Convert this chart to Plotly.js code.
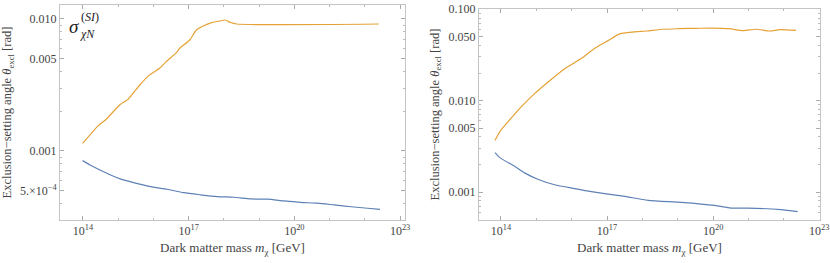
<!DOCTYPE html>
<html><head><meta charset="utf-8">
<script src="https://cdn.plot.ly/plotly-3.0.1.min.js"></script>
<style>html,body{margin:0;padding:0;background:#fff}#plot{width:830px;height:263px}</style>
</head><body><div id="plot"></div>
<script>
// Left panel (SI)
const massLeftOrange = [9.8e13, 2.7e14, 4.6e14, 1.1e15, 1.9e15, 4.1e15, 7.8e15, 1.5e16, 2.3e16, 4.5e16, 5.6e16, 1.07e17, 1.66e17, 2.6e17, 4.5e17, 7.6e17, 1.1e18, 1.5e18, 2.3e18, 2.5e22];
const thetaLeftOrange = [0.00114, 0.00155, 0.00174, 0.00223, 0.00246, 0.00316, 0.00377, 0.00423, 0.00475, 0.00556, 0.0060, 0.00693, 0.00826, 0.00885, 0.00938, 0.00966, 0.00982, 0.00944, 0.00916, 0.00916];
const massLeftBlue = [9.8e13, 1.6e14, 4.8e14, 1.15e15, 2.75e15, 8.3e15, 2.45e16, 7.2e16, 2.2e17, 6.5e17, 1.9e18, 5.8e18, 1.7e19, 5.1e19, 1.5e20, 4.6e20, 1.35e21, 4.1e21, 1.2e22, 2.7e22];
const thetaLeftBlue = [0.000845, 0.000783, 0.000678, 0.000614, 0.000575, 0.000537, 0.000513, 0.000483, 0.000465, 0.000451, 0.000446, 0.000433, 0.000431, 0.000418, 0.000408, 0.000402, 0.00039, 0.000378, 0.000368, 0.000361];
// Right panel
const massRightOrange = [6.8e13, 9.3e13, 1.6e14, 3.8e14, 9.1e14, 2.2e15, 6.5e15, 1.9e16, 4.5e16, 1.07e17, 2.3e17, 5.4e17, 1.3e18, 3.8e18, 1.1e19, 3.3e19, 9.8e19, 2.9e20, 6.9e20, 1.66e21, 4.0e21, 7.6e21, 2.2e22];
const thetaRightOrange = [0.00366, 0.00458, 0.00589, 0.00859, 0.0120, 0.0161, 0.0225, 0.029, 0.0373, 0.0453, 0.0536, 0.0562, 0.0577, 0.0603, 0.0612, 0.0618, 0.0622, 0.0612, 0.0582, 0.0603, 0.0577, 0.0597, 0.0587];
const massRightBlue = [6.8e13, 9.3e13, 2.5e14, 4.8e14, 1.1e15, 3.3e15, 1.2e16, 3.6e16, 1.07e17, 3.2e17, 1.45e18, 1.26e19, 1.1e20, 3.2e20, 9.5e20, 8.3e21, 2.45e22];
const thetaRightBlue = [0.0027, 0.00238, 0.0019, 0.00161, 0.00138, 0.0012, 0.00109, 0.00101, 0.00095, 0.000897, 0.000811, 0.000771, 0.000714, 0.000668, 0.000668, 0.000641, 0.00061];
// Ticks
const xTickVals = [1e14, 1e17, 1e20, 1e23];
const xTickText = ['10<sup>14</sup>', '10<sup>17</sup>', '10<sup>20</sup>', '10<sup>23</sup>'];
const yLeftTickVals = [5e-4, 0.001, 0.005, 0.01];
const yLeftTickText = ['5.×10<sup>−4</sup>', '0.001', '0.005', '0.010'];
const yRightTickVals = [0.001, 0.005, 0.01, 0.05, 0.1];
const yRightTickText = ['0.001', '0.005', '0.010', '0.050', '0.100'];

const ORANGE = '#E5A236', BLUE = '#5E81B5';
const FONT = 'Liberation Serif';
const traces = [
  {x: massLeftOrange, y: thetaLeftOrange, xaxis: 'x', yaxis: 'y', mode: 'lines', line: {color: ORANGE, width: 1.2, shape: 'spline', smoothing: 0.6}},
  {x: massLeftBlue, y: thetaLeftBlue, xaxis: 'x', yaxis: 'y', mode: 'lines', line: {color: BLUE, width: 1.2, shape: 'spline', smoothing: 0.6}},
  {x: massRightOrange, y: thetaRightOrange, xaxis: 'x2', yaxis: 'y2', mode: 'lines', line: {color: ORANGE, width: 1.2, shape: 'spline', smoothing: 0.6}},
  {x: massRightBlue, y: thetaRightBlue, xaxis: 'x2', yaxis: 'y2', mode: 'lines', line: {color: BLUE, width: 1.2, shape: 'spline', smoothing: 0.6}}
];
function xax(domain, range, anchor) {
  return {type: 'log', domain: domain, range: range, anchor: anchor, tickmode: 'array', tickvals: xTickVals, ticktext: xTickText,
    ticks: 'inside', ticklen: 4, tickcolor: '#aaa', showline: true, mirror: 'ticks', linecolor: '#c4c4c4', linewidth: 1,
    showgrid: false, zeroline: false, tickfont: {family: FONT, size: 12, color: '#444'},
    minor: {dtick: 1, ticks: 'inside', ticklen: 2, tickcolor: '#bbb'},
    title: {text: 'Dark matter mass <i>m</i><sub>χ</sub> [GeV]', font: {family: FONT, size: 13, color: '#444'}, standoff: 5}};
}
function yax(domain, range, anchor, tv, tt) {
  return {type: 'log', domain: domain, range: range, anchor: anchor, tickmode: 'array', tickvals: tv, ticktext: tt,
    ticks: 'inside', ticklen: 4, tickcolor: '#aaa', showline: true, mirror: 'ticks', linecolor: '#c4c4c4', linewidth: 1,
    showgrid: false, zeroline: false, tickfont: {family: FONT, size: 12, color: '#444'},
    minor: {dtick: 'D1', ticks: 'inside', ticklen: 2, tickcolor: '#bbb'},
    title: {text: 'Exclusion−setting angle <i>θ</i><sub>excl</sub> [rad]', font: {family: FONT, size: 12.5, color: '#444'}, standoff: 6}};
}
const layout = {
  width: 830, height: 263, margin: {l: 0, r: 0, t: 0, b: 0}, showlegend: false,
  paper_bgcolor: '#fff', plot_bgcolor: '#fff',
  xaxis: xax([60/830, 405/830], [13.35, 23.14], 'y'),
  yaxis: yax([1 - 220/263, 1 - 5/263], [-3.523, -1.894], 'x', yLeftTickVals, yLeftTickText),
  xaxis2: xax([479/830, 820/830], [13.38, 23.02], 'y2'),
  yaxis2: yax([1 - 220/263, 1 - 9/263], [-3.306, -0.998], 'x2', yRightTickVals, yRightTickText),
  annotations: [
    {xref: 'paper', yref: 'paper', x: 67/830, y: 1 - 27/263, text: '<i>σ</i>', showarrow: false, xanchor: 'left', yanchor: 'middle', font: {family: FONT, size: 19, color: '#222'}},
    {xref: 'paper', yref: 'paper', x: 79/830, y: 1 - 17/263, text: '(<i>SI</i>)', showarrow: false, xanchor: 'left', yanchor: 'middle', font: {family: FONT, size: 12, color: '#222'}},
    {xref: 'paper', yref: 'paper', x: 78/830, y: 1 - 34/263, text: '<i>χN</i>', showarrow: false, xanchor: 'left', yanchor: 'middle', font: {family: FONT, size: 12, color: '#222'}}
  ]
};
Plotly.newPlot('plot', traces, layout, {staticPlot: true});
</script></body></html>
